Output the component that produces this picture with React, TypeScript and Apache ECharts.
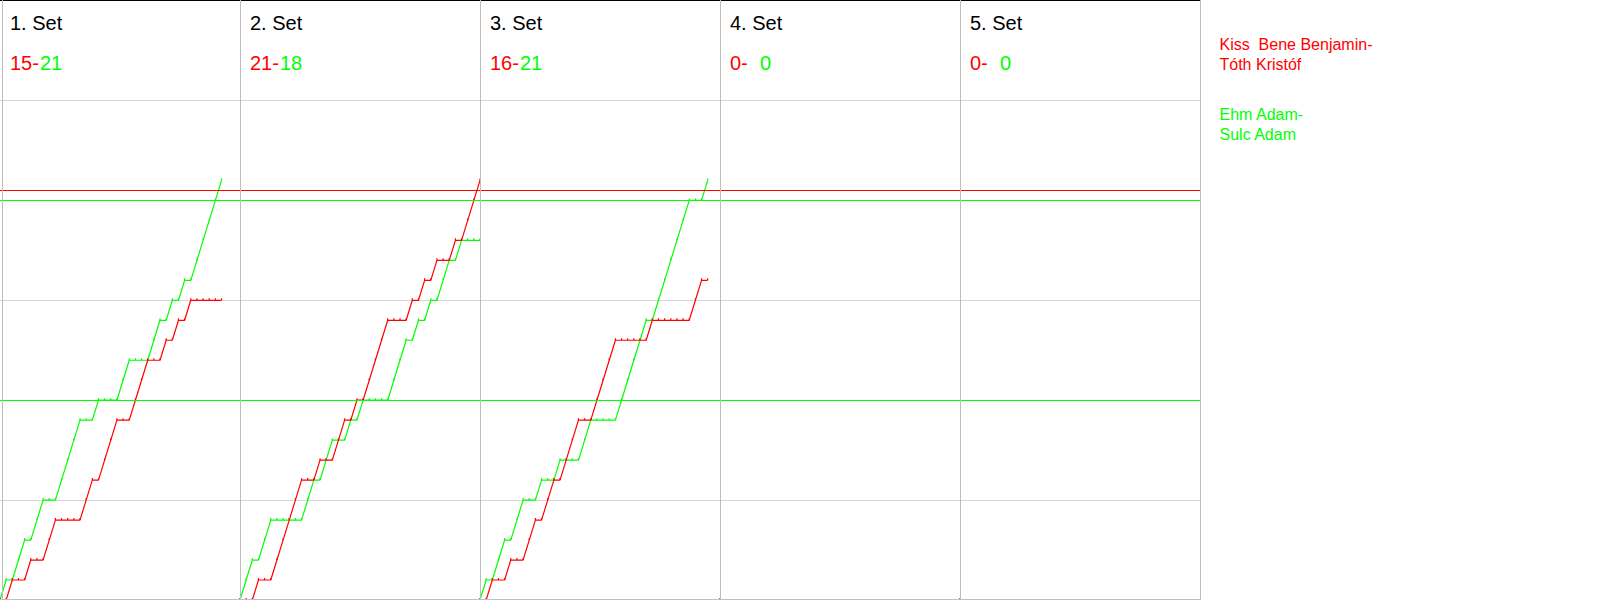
import React, { useEffect, useRef } from "react";
import * as echarts from "echarts";

// ---- data ----
const setNames = ["1. Set", "2. Set", "3. Set", "4. Set", "5. Set"];
const redTeamLines = ["Kiss  Bene Benjamin-", "Tóth Kristóf"];
const greenTeamLines = ["Ehm Adam-", "Sulc Adam"];
const redSetScores = [15, 21, 16, 0, 0];
const greenSetScores = [21, 18, 21, 0, 0];

// running score after each rally (index = rally number)
const redSet1 = [0, 0, 1, 1, 1, 2, 2, 2, 3, 4, 4, 4, 4, 4, 5, 6, 6, 7, 8, 9, 9, 9, 10, 11, 12, 12, 12, 13, 13, 14, 14, 15, 15, 15, 15, 15, 15];
const greenSet1 = [0, 1, 1, 2, 3, 3, 4, 5, 5, 5, 6, 7, 8, 9, 9, 9, 10, 10, 10, 10, 11, 12, 12, 12, 12, 13, 14, 14, 15, 15, 16, 16, 17, 18, 19, 20, 21];
const redSet2 = [0, 0, 0, 1, 1, 1, 2, 3, 4, 5, 6, 6, 6, 7, 7, 7, 8, 9, 9, 10, 10, 11, 12, 13, 14, 14, 14, 14, 15, 15, 16, 16, 17, 17, 17, 18, 18, 19, 20, 21];
const greenSet2 = [0, 1, 2, 2, 3, 4, 4, 4, 4, 4, 4, 5, 6, 6, 7, 8, 8, 8, 9, 9, 10, 10, 10, 10, 10, 11, 12, 13, 13, 14, 14, 15, 15, 16, 17, 17, 18, 18, 18, 18];
const redSet3 = [0, 0, 1, 1, 1, 2, 2, 2, 3, 4, 4, 5, 6, 6, 7, 8, 9, 9, 9, 10, 11, 12, 13, 13, 13, 13, 13, 13, 14, 14, 14, 14, 14, 14, 14, 15, 16, 16];
const greenSet3 = [0, 1, 1, 2, 3, 3, 4, 5, 5, 5, 6, 6, 6, 7, 7, 7, 7, 8, 9, 9, 9, 9, 9, 10, 11, 12, 13, 14, 14, 15, 16, 17, 18, 19, 20, 20, 20, 21];
const redSet4 = [0];
const greenSet4 = [0];
const redSet5 = [0];
const greenSet5 = [0];

const redProgress = [redSet1, redSet2, redSet3, redSet4, redSet5];
const greenProgress = [greenSet1, greenSet2, greenSet3, greenSet4, greenSet5];

const redRefLines = [20.5];
const greenRefLines = [10, 20];

const rallyAxisMax = 39;
const scoreAxisMax = 25;
const scoreInterval = 5;

// ---- styling ----
const RED = "#ff0000";
const GREEN = "#00ff00";
const FONT = "'Liberation Sans', Arial, sans-serif";
const PANEL_W = 240;
const HEADER_H = 100.5;
const PLOT_H = 500;

export default function App() {
  const ref = useRef<HTMLDivElement>(null);

  useEffect(() => {
    if (!ref.current) return;
    const chart = echarts.init(ref.current, undefined, { renderer: "svg" });

    const grids = setNames.map((_, i) => ({
      left: PANEL_W * i,
      top: HEADER_H,
      width: PANEL_W,
      height: PLOT_H,
    }));

    const xAxes = setNames.map((_, i) => ({
      type: "value" as const,
      gridIndex: i,
      min: 0,
      max: rallyAxisMax,
      axisLine: { show: false },
      axisTick: { show: false },
      axisLabel: { show: false },
      splitLine: { show: false },
    }));

    const yAxes = setNames.map((_, i) => ({
      type: "value" as const,
      gridIndex: i,
      min: 0,
      max: scoreAxisMax,
      interval: scoreInterval,
      axisLine: { show: false },
      axisTick: { show: false },
      axisLabel: { show: false },
      splitLine: { show: true, lineStyle: { color: "#d6d6d6", width: 1 } },
    }));

    const mkSeries = (vals: number[], i: number, color: string, refs: number[], name: string) => ({
      type: "line" as const,
      name,
      xAxisIndex: i,
      yAxisIndex: i,
      data: vals.map((v, k) => [k, v]),
      showSymbol: true,
      symbol: "rect",
      symbolSize: [1.2, 2],
      symbolOffset: [0, -1],
      itemStyle: { color },
      lineStyle: { color, width: 1.2 },
      emphasis: { disabled: true },
      silent: true,
      z: color === RED ? 4 : 3,
      markLine: {
        silent: true,
        symbol: ["none", "none"],
        label: { show: false },
        lineStyle: { color, width: 1, type: "solid" as const },
        emphasis: { disabled: true },
        data: refs.map((v) => ({ yAxis: v })),
      },
    });

    const series: any[] = [];
    setNames.forEach((_, i) => {
      series.push(mkSeries(greenProgress[i], i, GREEN, greenRefLines, "green" + i));
      series.push(mkSeries(redProgress[i], i, RED, redRefLines, "red" + i));
    });

    const totalW = PANEL_W * setNames.length;
    const graphics: any[] = [];
    // top border
    graphics.push({
      type: "line",
      shape: { x1: 0, y1: 0.5, x2: totalW, y2: 0.5 },
      style: { stroke: "#000000", lineWidth: 1 },
      z: 20,
    });
    // bottom frame line
    graphics.push({
      type: "line",
      shape: { x1: 0, y1: 599.5, x2: totalW, y2: 599.5 },
      style: { stroke: "#c0c0c0", lineWidth: 1 },
      z: 20,
    });
    // panel separators
    for (let i = 0; i <= setNames.length; i++) {
      const x = i === 0 ? 2.5 : PANEL_W * i + 0.5;
      graphics.push({
        type: "line",
        shape: { x1: x, y1: 0, x2: x, y2: 600 },
        style: { stroke: "#bdbdbd", lineWidth: 1 },
        z: 20,
      });
    }
    // headers
    setNames.forEach((name, i) => {
      const x0 = PANEL_W * i + 10;
      graphics.push({
        type: "text",
        x: x0,
        y: 22.6,
        style: { text: name, fill: "#000000", font: `20px ${FONT}`, verticalAlign: "middle", align: "left" },
        z: 20,
      });
      graphics.push({
        type: "text",
        x: x0,
        y: 62.6,
        style: { text: `${redSetScores[i]}-`, fill: RED, font: `20px ${FONT}`, verticalAlign: "middle", align: "left" },
        z: 20,
      });
      graphics.push({
        type: "text",
        x: PANEL_W * i + 40,
        y: 62.6,
        style: { text: `${greenSetScores[i]}`, fill: GREEN, font: `20px ${FONT}`, verticalAlign: "middle", align: "left" },
        z: 20,
      });
    });
    // team legend
    graphics.push({
      type: "text",
      x: 1219.5,
      y: 34.5,
      style: { text: redTeamLines.join("\n"), fill: RED, font: `16px ${FONT}`, lineHeight: 20, verticalAlign: "top", align: "left" },
      z: 20,
    });
    graphics.push({
      type: "text",
      x: 1219.5,
      y: 104.5,
      style: { text: greenTeamLines.join("\n"), fill: GREEN, font: `16px ${FONT}`, lineHeight: 20, verticalAlign: "top", align: "left" },
      z: 20,
    });

    chart.setOption({
      animation: false,
      backgroundColor: "#ffffff",
      textStyle: { fontFamily: FONT },
      grid: grids,
      xAxis: xAxes,
      yAxis: yAxes,
      series,
      graphic: graphics,
    });

    return () => chart.dispose();
  }, []);

  return (
    <div
      ref={ref}
      style={{ position: "absolute", left: 0, top: 0, width: 1600, height: 600 }}
    />
  );
}
